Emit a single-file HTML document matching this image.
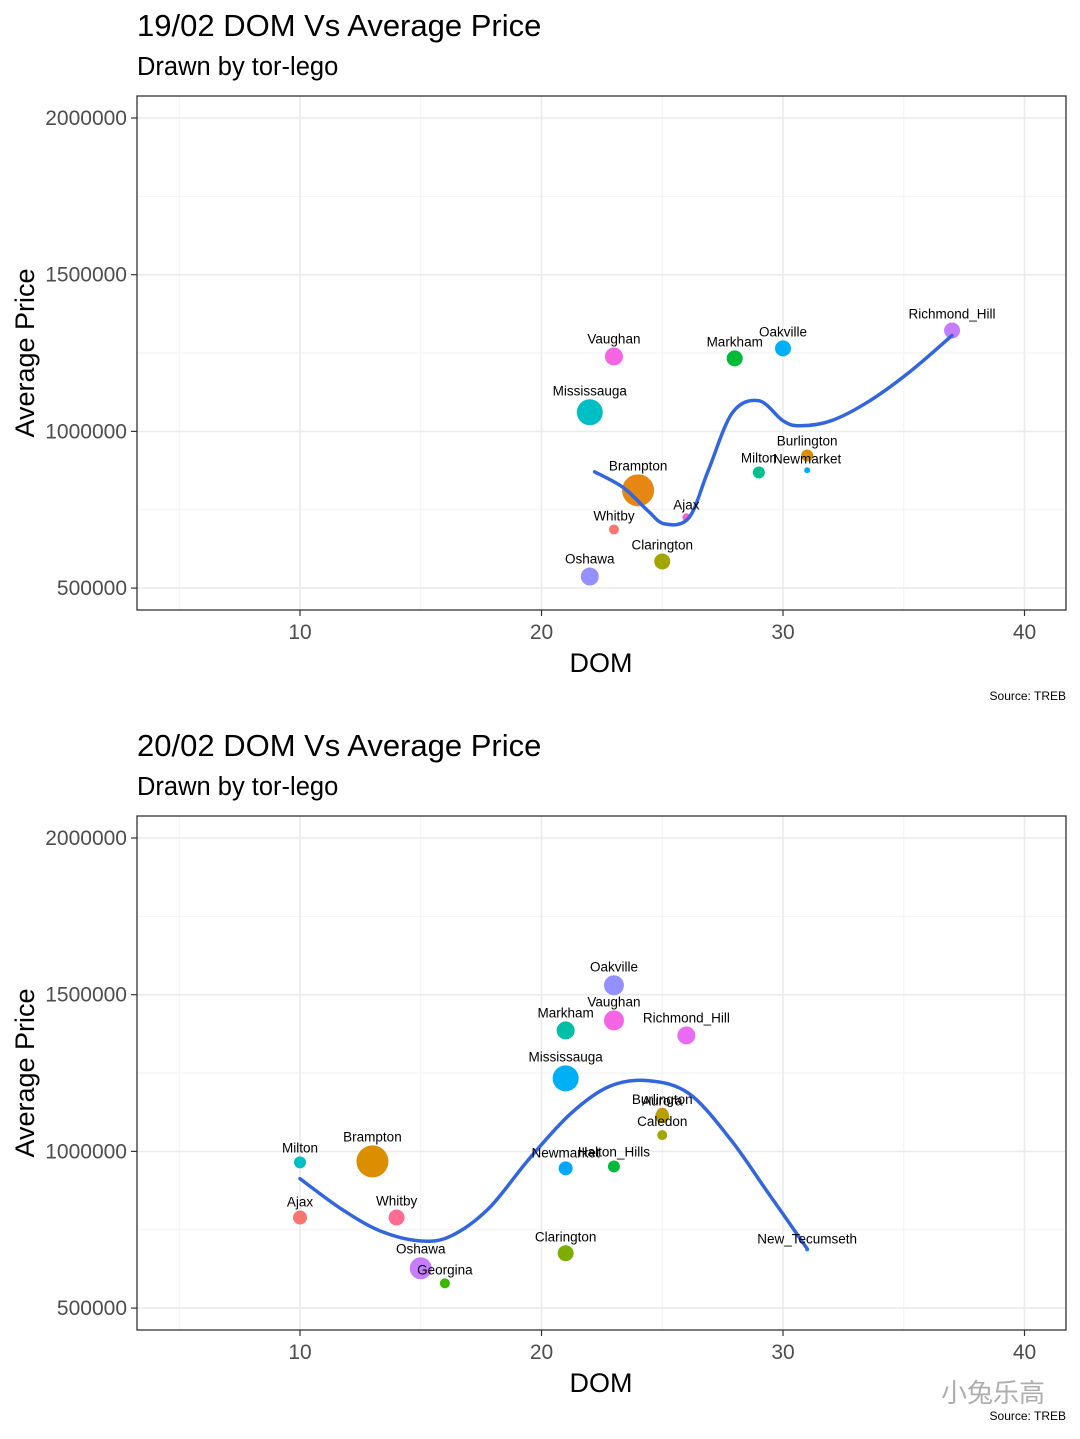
<!DOCTYPE html>
<html><head><meta charset="utf-8"><style>
html,body{margin:0;padding:0;background:#fff;width:1080px;height:1439px;overflow:hidden}
svg{display:block;font-family:"Liberation Sans","Noto Sans CJK SC",sans-serif}
</style></head><body>
<svg id="chart" width="1080" height="1439" xmlns="http://www.w3.org/2000/svg"></svg>
<script>
const xTicks=[10,20,30,40];
const xMinor=[5,15,25,35];
const yTicks=[500000,1000000,1500000,2000000];
const yMinor=[750000,1250000,1750000];
const p1Names=["Vaughan","Markham","Oakville","Richmond_Hill","Mississauga","Burlington","Newmarket","Milton","Brampton","Ajax","Whitby","Clarington","Oshawa"];
const p1Dom=[23,28,30,37,22,31,31,29,24,26,23,25,22];
const p1Price=[1239000,1233000,1265000,1322000,1061000,923000,876000,869000,812000,726000,687000,585000,537000];
const p1Size=[9,8,8,8,13,6,3,6,16,4,5,8,9];
const p1Color=["#F564E3","#00BA38","#00B0F6","#C77CFF","#00BFC4","#D89000","#00A9FF","#00C08B","#E68613","#FF62BC","#F8766D","#A3A500","#9590FF"];
const p1LineX=[22.2,23.4,24.4,25.1,26.1,26.9,27.9,29.0,30.0,30.7,32.0,33.6,35.3,37.0];
const p1LineY=[871000,820000,747000,705000,724000,874000,1059000,1098000,1034000,1018000,1034000,1098000,1193000,1306000];
const p2Names=["Oakville","Vaughan","Markham","Richmond_Hill","Mississauga","Burlington","Aurora","Caledon","Milton","Brampton","Newmarket","Halton_Hills","Ajax","Whitby","New_Tecumseth","Clarington","Oshawa","Georgina"];
const p2Dom=[23,23,21,26,21,25,25,25,10,13,21,23,10,14,31,21,15,16];
const p2Price=[1530000,1418000,1386000,1370000,1233000,1120000,1112000,1052000,965000,968000,946000,952000,789000,789000,687000,675000,627000,579000];
const p2Size=[10,10,9,9,13,6,7,5,6,16,7,6,7,8,2,8,11,5];
const p2Color=["#9590FF","#F564E3","#00BFA5","#E76BF3","#00B0F6","#D89000","#B79F00","#A3A500","#00BFC4","#DB8E00","#00A9FF","#00BA38","#F8766D","#FF6C91","#00A5FF","#7CAE00","#C77CFF","#39B600"];
const p2LineX=[10,11.7,13.3,14.9,16.2,17.8,19.5,21.2,22.8,24.4,26.1,27.8,29.4,31.0];
const p2LineY=[913000,817000,747000,715000,728000,817000,977000,1120000,1207000,1226000,1185000,1041000,866000,690000];

const svg=document.getElementById('chart');
const NS="http://www.w3.org/2000/svg";
function mk(tag,attrs,parent){const e=document.createElementNS(NS,tag);for(const k in attrs)e.setAttribute(k,attrs[k]);(parent||svg).appendChild(e);return e;}
const L=137,R=1066;
function xs(v){return 300+(v-10)*24.15;}

function panel(top,titleText,names,dom,price,size,color,lx,ly,id){
  const g=mk('g',{});
  
  
  const B=top+514;
  const y0=top+22;
  function ys(v){return y0+(2000000-v)/500000*156.7;}
  const t=mk('text',{x:137,y:top-60,'font-size':31,fill:'#000'},g);t.textContent=titleText;
  
  const st=mk('text',{x:137,y:top-21,'font-size':25.5,fill:'#000'},g);st.textContent="Drawn by tor-lego";
  
  const bg=mk('rect',{x:L,y:top,width:R-L,height:514,fill:'#fff'},g);
  
  xMinor.forEach(v=>{mk('line',{x1:xs(v),x2:xs(v),y1:top,y2:B,stroke:'#f2f2f2','stroke-width':1},g);});
  yMinor.forEach(v=>{mk('line',{x1:L,x2:R,y1:ys(v),y2:ys(v),stroke:'#f2f2f2','stroke-width':1},g);});
  xTicks.forEach(v=>{
    mk('line',{x1:xs(v),x2:xs(v),y1:top,y2:B,stroke:'#ebebeb','stroke-width':1.6},g);
    mk('line',{x1:xs(v),x2:xs(v),y1:B,y2:B+6,stroke:'#333','stroke-width':1.2},g);
    const tl=mk('text',{x:xs(v),y:B+29,'font-size':21,fill:'#4d4d4d','text-anchor':'middle'},g);tl.textContent=v;
    
  });
  yTicks.forEach(v=>{
    mk('line',{x1:L,x2:R,y1:ys(v),y2:ys(v),stroke:'#ebebeb','stroke-width':1.6},g);
    mk('line',{x1:L-6,x2:L,y1:ys(v),y2:ys(v),stroke:'#333','stroke-width':1.2},g);
    const tl=mk('text',{x:L-10,y:ys(v)+7,'font-size':21,fill:'#4d4d4d','text-anchor':'end'},g);tl.textContent=v;
    
  });
  const xt=mk('text',{x:601,y:B+62,'font-size':27,fill:'#000','text-anchor':'middle'},g);xt.textContent="DOM";
  
  const yt=mk('text',{x:0,y:0,'font-size':27,fill:'#000','text-anchor':'middle',transform:`translate(34,${top+257}) rotate(-90)`},g);yt.textContent="Average Price";
  
  names.forEach((n,i)=>{
    const c=mk('circle',{cx:xs(dom[i]),cy:ys(price[i]),r:size[i],fill:color[i]},g);
    
    
  });
  const P=lx.map((v,i)=>[xs(v),ys(ly[i])]);
  let d='M'+P[0][0].toFixed(1)+','+P[0][1].toFixed(1);
  for(let i=0;i<P.length-1;i++){
    const p0=P[Math.max(0,i-1)],p1=P[i],p2=P[i+1],p3=P[Math.min(P.length-1,i+2)];
    const c1=[p1[0]+(p2[0]-p0[0])/6,p1[1]+(p2[1]-p0[1])/6];
    const c2=[p2[0]-(p3[0]-p1[0])/6,p2[1]-(p3[1]-p1[1])/6];
    d+=` C${c1[0].toFixed(1)},${c1[1].toFixed(1)} ${c2[0].toFixed(1)},${c2[1].toFixed(1)} ${p2[0].toFixed(1)},${p2[1].toFixed(1)}`;
  }
  const pth=mk('path',{d:d,fill:'none',stroke:'#3366dd','stroke-width':3.5,'stroke-linejoin':'round','stroke-linecap':'round'},g);
  
  names.forEach((n,i)=>{
    const tl=mk('text',{x:xs(dom[i]),y:ys(price[i])-size[i]-4,'font-size':13.5,fill:'#000','text-anchor':'middle'},g);tl.textContent=n;
    
  });
  const fr=mk('rect',{x:L,y:top,width:R-L,height:514,fill:'none',stroke:'#333','stroke-width':1.3},g);
  
  const src=mk('text',{x:1066,y:B+90,'font-size':12,fill:'#000','text-anchor':'end'},g);src.textContent="Source: TREB";
  
}
panel(96,"19/02 DOM Vs Average Price",p1Names,p1Dom,p1Price,p1Size,p1Color,p1LineX,p1LineY,'panel-feb-19');
panel(816,"20/02 DOM Vs Average Price",p2Names,p2Dom,p2Price,p2Size,p2Color,p2LineX,p2LineY,'panel-feb-20');
const wm=mk('text',{x:1045,y:1402,'font-size':26,fill:'#999','text-anchor':'end',opacity:0.8});wm.textContent="小兔乐高";


</script>
</body></html>
